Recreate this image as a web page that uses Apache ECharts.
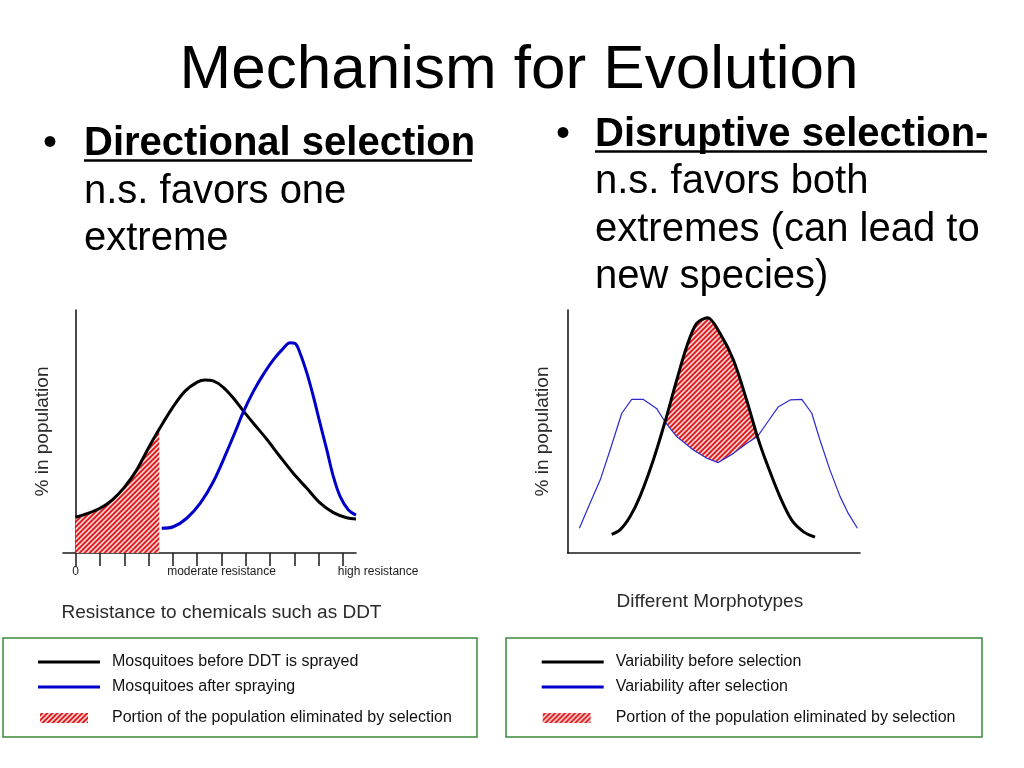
<!DOCTYPE html>
<html>
<head>
<meta charset="utf-8">
<script src="https://cdn.jsdelivr.net/npm/echarts@6/dist/echarts.min.js"></script>
<style>
html,body{margin:0;padding:0;background:#fff;}
#chart{width:1024px;height:768px;}
</style>
</head>
<body>
<div id="chart"></div>
<script>
// ---------- data ----------
// Directional selection (x in tick units 0..11, y in % of plot height)
const leftBeforeX = [0, 0.5, 1.0, 1.5, 2.0, 2.5, 3.0, 3.44, 4.0, 4.5, 5.0, 5.32, 5.66, 6.07, 6.49, 6.87, 7.31, 7.86, 8.41, 8.95, 9.51, 10.05, 10.6, 11.15, 11.53];
const leftBeforeY = [14.7, 16.3, 18.4, 21.8, 27.0, 34.0, 43.3, 51.0, 60.0, 66.6, 70.3, 71.2, 70.8, 68.2, 63.7, 58.8, 53.4, 46.8, 39.6, 32.8, 26.6, 20.6, 16.6, 14.5, 14.0];
const leftAfterX = [3.54, 4.02, 4.57, 5.12, 5.66, 6.21, 6.63, 6.87, 7.31, 7.72, 8.13, 8.54, 8.82, 9.02, 9.23, 9.51, 9.78, 10.05, 10.33, 10.6, 10.88, 11.22, 11.53];
const leftAfterY = [10.2, 10.8, 14.3, 20.4, 29.3, 41.5, 51.5, 57.5, 66.5, 73.5, 79.5, 84.2, 86.5, 86.3, 82.2, 74.0, 64.3, 53.4, 42.4, 31.4, 23.2, 17.7, 15.6];
const leftCutoff = 3.44;
const leftTicks = [0, 1, 2, 3, 4, 5, 6, 7, 8, 9, 10, 11];
const leftLabelValues = [0, 6, 11];
const leftLabelTexts = ['0', 'moderate resistance', 'high resistance'];

// Disruptive selection (x in % of axis width, y in % of plot height)
const rightBeforeX = [15.05, 17.9, 21.3, 24.7, 29.3, 33.3, 37.3, 40.7, 44.1, 47.9, 52.1, 56.7, 61.2, 64.9, 68.1, 72.6, 76.6, 80.6, 84.6];
const rightBeforeY = [7.7, 9.5, 14.9, 23.2, 38.3, 54.0, 71.2, 84.9, 94.5, 96.8, 90.4, 79.4, 63, 47.9, 36.9, 23.2, 13.6, 8.8, 6.5];
const rightAfterX = [4.0, 7.6, 11.1, 14.5, 18.5, 21.9, 25.9, 30.4, 33.3, 37.3, 43, 47.6, 51.5, 56.7, 61.2, 64.9, 68.1, 72.1, 76.1, 80.1, 83.5, 86.3, 89.7, 93.2, 96, 99.1];
const rightAfterY = [10.2, 20.4, 30, 42.4, 57.5, 63.2, 63.2, 59.5, 54.0, 47.9, 42.4, 39, 37.2, 41, 45.1, 47.9, 53.4, 60.2, 63, 63.2, 57.5, 46.5, 34.2, 23.2, 16.3, 10.2];
const rightCutFrom = 33.3, rightCutTo = 64.9;

const names = {
  leftBefore: 'Mosquitoes before DDT is sprayed',
  leftAfter: 'Mosquitoes after spraying',
  eliminated: 'Portion of the population eliminated by selection',
  rightBefore: 'Variability before selection',
  rightAfter: 'Variability after selection'
};

// ---------- helpers ----------
const FONT = '"Liberation Sans", Arial, Helvetica, sans-serif';
const zip = (xs, ys) => xs.map((x, i) => [x, ys[i]]);
function hatchPattern() {
  const s = 5;
  const c = document.createElement('canvas');
  c.width = s; c.height = s;
  const g = c.getContext('2d');
  g.fillStyle = '#e02020';
  g.fillRect(0, 0, s, s);
  g.strokeStyle = 'rgba(255,240,240,0.95)';
  g.lineWidth = 1.5;
  g.beginPath();
  g.moveTo(-1, 1); g.lineTo(1, -1);
  g.moveTo(-1, s + 1); g.lineTo(s + 1, -1);
  g.moveTo(s - 1, s + 1); g.lineTo(s + 1, s - 1);
  g.stroke();
  return { image: c, repeat: 'repeat' };
}
const HATCH = hatchPattern();

const leftBefore = zip(leftBeforeX, leftBeforeY);
const leftAfter = zip(leftAfterX, leftAfterY);
const leftHatch = leftBefore.filter(p => p[0] <= leftCutoff);
const rightBefore = zip(rightBeforeX, rightBeforeY);
const rightAfter = zip(rightAfterX, rightAfterY);
const rightHatchTop = rightBefore.filter(p => p[0] >= rightCutFrom && p[0] <= rightCutTo);
const rightHatchBottom = rightAfter.filter(p => p[0] >= rightCutFrom && p[0] <= rightCutTo);

const axisLineStyle = { color: '#1a1a1a', width: 1.6 };
const nameStyle = { fontSize: 19, color: '#2a2a2a', fontFamily: FONT };

function legendItem(name, left, centerY, kind, pad, color) {
  const base = {
    left: left, top: centerY - 9, orient: 'horizontal', padding: 0,
    selectedMode: false,
    textStyle: { fontSize: 16, color: '#111', fontFamily: FONT, lineHeight: 18, padding: [0, 0, 0, pad] }
  };
  if (kind === 'hatch') {
    base.itemWidth = 48; base.itemHeight = 10;
    base.data = [{ name: name, icon: 'rect', itemStyle: { color: HATCH, borderWidth: 0 } }];
  } else {
    base.itemWidth = 62; base.itemHeight = 3;
    base.data = [{ name: name, icon: 'rect', itemStyle: { color: color, borderWidth: 0 } }];
  }
  return base;
}

const option = {
  backgroundColor: '#fff',
  animation: false,
  grid: [
    { left: 63, top: 310, width: 293, height: 243 },
    { left: 567.7, top: 310, width: 292.3, height: 243 }
  ],
  xAxis: [
    {
      type: 'value', gridIndex: 0, min: -0.52, max: 11.53,
      axisLine: { show: true, lineStyle: axisLineStyle },
      axisTick: { show: true, customValues: leftTicks, length: 13, lineStyle: { color: '#1a1a1a', width: 1.5 } },
      axisLabel: {
        show: true, customValues: leftLabelValues, margin: 13,
        fontSize: 12, color: '#1a1a1a', fontFamily: FONT,
        formatter: v => {
          const i = leftLabelValues.indexOf(v);
          if (i === leftLabelValues.length - 1) return '{hi|' + leftLabelTexts[i] + '}';
          return i >= 0 ? leftLabelTexts[i] : '';
        },
        rich: { hi: { fontSize: 12, color: '#1a1a1a', fontFamily: FONT, padding: [0, 0, 0, 70] } }
      },
      splitLine: { show: false },
      name: 'Resistance to chemicals such as DDT', nameLocation: 'middle', nameGap: 50,
      nameTextStyle: Object.assign({ padding: [0, 0, 0, 24] }, nameStyle)
    },
    {
      type: 'value', gridIndex: 1, min: 0, max: 100,
      axisLine: { show: true, lineStyle: axisLineStyle },
      axisTick: { show: false }, axisLabel: { show: false }, splitLine: { show: false },
      name: 'Different Morphotypes', nameLocation: 'middle', nameGap: 39,
      nameTextStyle: Object.assign({ padding: [0, 8, 0, 0] }, nameStyle)
    }
  ],
  yAxis: [
    {
      type: 'value', gridIndex: 0, min: 0, max: 100,
      axisLine: { show: true, lineStyle: axisLineStyle },
      axisTick: { show: false }, axisLabel: { show: false }, splitLine: { show: false },
      name: '% in population', nameLocation: 'middle', nameRotate: 90, nameGap: 11,
      nameTextStyle: nameStyle
    },
    {
      type: 'value', gridIndex: 1, min: 0, max: 100,
      axisLine: { show: true, lineStyle: axisLineStyle },
      axisTick: { show: false }, axisLabel: { show: false }, splitLine: { show: false },
      name: '% in population', nameLocation: 'middle', nameRotate: 90, nameGap: 15,
      nameTextStyle: nameStyle
    }
  ],
  legend: [
    legendItem(names.leftBefore, 38, 662, 'line', 7, '#000'),
    legendItem(names.leftAfter, 38, 687, 'line', 7, '#0000c8'),
    legendItem(names.eliminated, 40, 718, 'hatch', 19),
    legendItem(names.rightBefore, 541.7, 662, 'line', 7, '#000'),
    legendItem(names.rightAfter, 541.7, 687, 'line', 7, '#0000c8'),
    legendItem(names.eliminated, 542.7, 718, 'hatch', 20)
  ],
  series: [
    {
      name: names.eliminated, type: 'line', xAxisIndex: 0, yAxisIndex: 0,
      data: leftHatch, smooth: 0.35, symbol: 'none',
      lineStyle: { width: 0, color: '#e02020' }, itemStyle: { color: HATCH },
      areaStyle: { color: HATCH, opacity: 1 }, silent: true
    },
    {
      name: names.leftBefore, type: 'line', xAxisIndex: 0, yAxisIndex: 0,
      data: leftBefore, smooth: 0.35, symbol: 'none',
      lineStyle: { width: 3, color: '#000' }, itemStyle: { color: '#000' }
    },
    {
      name: names.leftAfter, type: 'line', xAxisIndex: 0, yAxisIndex: 0,
      data: leftAfter, smooth: 0.35, symbol: 'none',
      lineStyle: { width: 3, color: '#0000c8' }, itemStyle: { color: '#0000c8' }
    },
    {
      name: names.eliminated, type: 'custom', xAxisIndex: 1, yAxisIndex: 1,
      data: [[50, 50]], silent: true, itemStyle: { color: HATCH },
      renderItem: (params, api) => {
        const pts = rightHatchTop.map(p => api.coord(p))
          .concat(rightHatchBottom.slice().reverse().map(p => api.coord(p)));
        return { type: 'polygon', shape: { points: pts }, style: { fill: HATCH, stroke: null } };
      }
    },
    {
      name: names.rightAfter, type: 'line', xAxisIndex: 1, yAxisIndex: 1,
      data: rightAfter, smooth: false, symbol: 'none',
      lineStyle: { width: 1.2, color: '#2a2ad0' }, itemStyle: { color: '#0000c8' }
    },
    {
      name: names.rightBefore, type: 'line', xAxisIndex: 1, yAxisIndex: 1,
      data: rightBefore, smooth: 0.3, symbol: 'none',
      lineStyle: { width: 3, color: '#000' }, itemStyle: { color: '#000' }
    }
  ],
  graphic: [
    { type: 'text', x: 519, y: 71, style: { text: 'Mechanism for Evolution', fontSize: 62, fontFamily: FONT, fill: '#000', align: 'center', verticalAlign: 'middle' } },
    // left bullet
    { type: 'text', x: 50, y: 144, style: { text: '•', fontSize: 40, fontFamily: FONT, fill: '#000', align: 'center', verticalAlign: 'middle' } },
    { type: 'text', x: 84, y: 144.3, style: { text: 'Directional selection', fontSize: 40, fontWeight: 'bold', fontFamily: FONT, fill: '#000', align: 'left', verticalAlign: 'middle' } },
    { type: 'line', shape: { x1: 84, y1: 160.5, x2: 472, y2: 160.5 }, style: { stroke: '#000', lineWidth: 2.5 } },
    { type: 'text', x: 84, y: 191.6, style: { text: 'n.s. favors one', fontSize: 40, fontFamily: FONT, fill: '#000', align: 'left', verticalAlign: 'middle' } },
    { type: 'text', x: 84, y: 239.1, style: { text: 'extreme', fontSize: 40, fontFamily: FONT, fill: '#000', align: 'left', verticalAlign: 'middle' } },
    // right bullet
    { type: 'text', x: 563, y: 134.6, style: { text: '•', fontSize: 40, fontFamily: FONT, fill: '#000', align: 'center', verticalAlign: 'middle' } },
    { type: 'text', x: 595, y: 134.6, style: { text: 'Disruptive selection-', fontSize: 40, fontWeight: 'bold', fontFamily: FONT, fill: '#000', align: 'left', verticalAlign: 'middle' } },
    { type: 'line', shape: { x1: 595, y1: 151.5, x2: 987, y2: 151.5 }, style: { stroke: '#000', lineWidth: 2.5 } },
    { type: 'text', x: 595, y: 182.1, style: { text: 'n.s. favors both', fontSize: 40, fontFamily: FONT, fill: '#000', align: 'left', verticalAlign: 'middle' } },
    { type: 'text', x: 595, y: 229.6, style: { text: 'extremes (can lead to', fontSize: 40, fontFamily: FONT, fill: '#000', align: 'left', verticalAlign: 'middle' } },
    { type: 'text', x: 595, y: 277.1, style: { text: 'new species)', fontSize: 40, fontFamily: FONT, fill: '#000', align: 'left', verticalAlign: 'middle' } },
    // legend boxes
    { type: 'rect', shape: { x: 3, y: 638, width: 474, height: 99 }, style: { fill: 'rgba(0,0,0,0)', stroke: '#3a8a3a', lineWidth: 1.5 }, z: -1 },
    { type: 'rect', shape: { x: 506, y: 638, width: 476, height: 99 }, style: { fill: 'rgba(0,0,0,0)', stroke: '#3a8a3a', lineWidth: 1.5 }, z: -1 }
  ]
};

const chart = echarts.init(document.getElementById('chart'), null, { renderer: 'canvas' });
chart.setOption(option);
</script>
</body>
</html>
